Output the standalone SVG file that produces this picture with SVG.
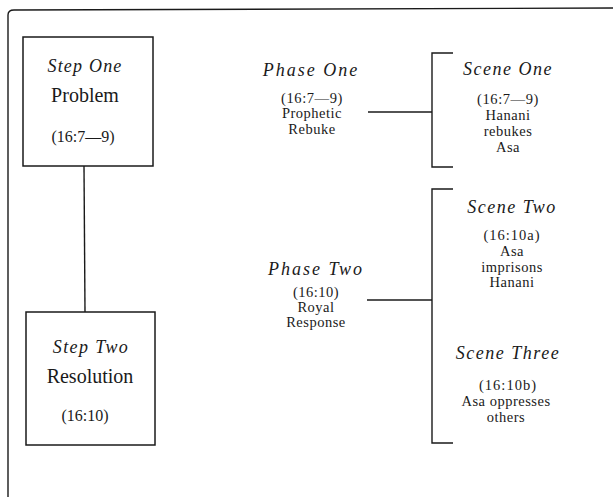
<svg xmlns="http://www.w3.org/2000/svg" width="613" height="497" viewBox="0 0 613 497">
<style>
.ln{fill:none;stroke:#1a1a1a;stroke-width:1.4}
.box{fill:#fff;stroke:#1a1a1a;stroke-width:1.5}
text{font-family:"Liberation Serif","DejaVu Serif",serif;fill:#1a1a1a;text-anchor:middle}
.it{font-style:italic;font-size:18px}
.big{font-size:20px}
.sm{font-size:16px}
.lab{font-size:14.5px}
</style>
<rect x="0" y="0" width="613" height="497" fill="#fff"/>
<path class="ln" d="M8,497 L8,15 Q8,10 14,10 L613,8"/>
<g id="connectors">
<line class="ln" x1="84" y1="166" x2="85" y2="312"/>
<line class="ln" x1="368" y1="112" x2="432" y2="112"/>
<polyline class="ln" points="453,53 432,53 432,167 453,167"/>
<line class="ln" x1="367" y1="300" x2="432" y2="300"/>
<polyline class="ln" points="453,189 432,189 432,443 453,443"/>
</g>
<g id="step-one">
<rect class="box" x="23" y="37" width="130" height="129"/>
<text class="it" x="85" y="72" letter-spacing="1.2">Step One</text>
<text class="big" x="85" y="102">Problem</text>
<text class="sm" x="83" y="142">(16:7—9)</text>
</g>
<g id="step-two">
<rect class="box" x="26" y="312" width="129" height="133"/>
<text class="it" x="91" y="353" letter-spacing="1.4">Step Two</text>
<text class="big" x="90" y="383">Resolution</text>
<text class="sm" x="85" y="421">(16:10)</text>
</g>
<g id="phase-one">
<text class="it" x="311" y="76" letter-spacing="2">Phase One</text>
<text class="lab" x="312" y="103" letter-spacing="0.6">(16:7—9)</text>
<text class="lab" x="312" y="118" letter-spacing="0.5">Prophetic</text>
<text class="lab" x="312" y="134" letter-spacing="0.5">Rebuke</text>
</g>
<g id="phase-two">
<text class="it" x="316" y="275" letter-spacing="2">Phase Two</text>
<text class="lab" x="316" y="297" letter-spacing="0.5">(16:10)</text>
<text class="lab" x="316" y="312" letter-spacing="0.5">Royal</text>
<text class="lab" x="316" y="327" letter-spacing="0.5">Response</text>
</g>
<g id="scene-one">
<text class="it" x="508" y="75" letter-spacing="1.5">Scene One</text>
<text class="lab" x="508" y="104" letter-spacing="0.6">(16:7—9)</text>
<text class="lab" x="508" y="120" letter-spacing="0.5">Hanani</text>
<text class="lab" x="508" y="136" letter-spacing="0.5">rebukes</text>
<text class="lab" x="508" y="152" letter-spacing="0.5">Asa</text>
</g>
<g id="scene-two">
<text class="it" x="512" y="213" letter-spacing="1.5">Scene Two</text>
<text class="lab" x="512" y="240" letter-spacing="1">(16:10a)</text>
<text class="lab" x="512" y="256" letter-spacing="0.5">Asa</text>
<text class="lab" x="512" y="272" letter-spacing="0.5">imprisons</text>
<text class="lab" x="512" y="287" letter-spacing="0.5">Hanani</text>
</g>
<g id="scene-three">
<text class="it" x="508" y="359" letter-spacing="1.5">Scene Three</text>
<text class="lab" x="508" y="390" letter-spacing="1">(16:10b)</text>
<text class="lab" x="506" y="406" letter-spacing="0.5">Asa oppresses</text>
<text class="lab" x="506" y="422" letter-spacing="0.5">others</text>
</g>
</svg>
